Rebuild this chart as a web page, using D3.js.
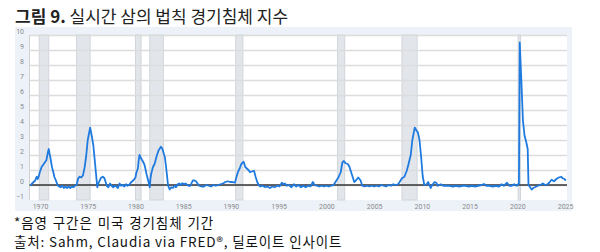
<!DOCTYPE html>
<html><head><meta charset="utf-8">
<script src="https://cdn.jsdelivr.net/npm/d3@7"></script>
<style>
html,body{margin:0;padding:0;background:#fff;}
svg{display:block;}
</style></head>
<body>
<svg id="c" width="600" height="252"></svg>
<script>
// ---- data ----
const months = ["1969-01","1969-03","1969-05","1969-07","1969-08","1969-09","1969-10","1969-11","1970-01","1970-03","1970-05","1970-07","1970-09","1970-11","1970-12","1971-01","1971-02","1971-04","1971-05","1971-06","1971-07","1971-09","1971-11","1972-01","1972-03","1972-05","1972-07","1972-09","1972-11","1973-01","1973-03","1973-05","1973-07","1973-09","1973-11","1974-01","1974-03","1974-05","1974-07","1974-09","1974-11","1975-01","1975-04","1975-06","1975-08","1975-10","1976-01","1976-02","1976-04","1976-06","1976-08","1976-10","1977-01","1977-03","1977-05","1977-07","1977-09","1977-11","1978-01","1978-03","1978-05","1978-07","1978-09","1978-11","1979-01","1979-03","1979-05","1979-07","1979-09","1979-11","1980-01","1980-02","1980-04","1980-05","1980-06","1980-08","1980-10","1980-12","1981-01","1981-03","1981-05","1981-07","1981-08","1981-09","1981-11","1982-01","1982-04","1982-06","1982-09","1982-11","1983-01","1983-02","1983-04","1983-06","1983-08","1983-10","1983-12","1984-02","1984-04","1984-06","1984-08","1984-10","1984-12","1985-02","1985-04","1985-06","1985-08","1985-10","1986-01","1986-03","1986-05","1986-07","1986-09","1986-12","1987-03","1987-06","1987-09","1987-12","1988-03","1988-06","1988-09","1988-12","1989-03","1989-06","1989-09","1989-12","1990-03","1990-06","1990-08","1990-10","1990-12","1991-02","1991-05","1991-07","1991-09","1991-11","1992-01","1992-03","1992-06","1992-08","1992-10","1992-12","1993-02","1993-05","1993-08","1993-11","1994-02","1994-05","1994-08","1994-11","1995-02","1995-05","1995-07","1995-09","1995-11","1996-02","1996-05","1996-08","1996-11","1997-02","1997-05","1997-08","1997-11","1998-02","1998-05","1998-08","1998-10","1999-01","1999-04","1999-07","1999-10","2000-01","2000-04","2000-07","2000-10","2001-01","2001-04","2001-07","2001-09","2001-11","2002-01","2002-04","2002-06","2002-09","2002-12","2003-02","2003-05","2003-08","2003-10","2004-01","2004-04","2004-07","2004-10","2005-01","2005-04","2005-07","2005-10","2006-01","2006-04","2006-07","2006-10","2007-01","2007-04","2007-07","2007-09","2007-12","2008-03","2008-06","2008-08","2008-11","2009-01","2009-04","2009-06","2009-08","2009-10","2009-12","2010-02","2010-04","2010-07","2010-09","2010-12","2011-02","2011-05","2011-07","2011-09","2012-01","2012-04","2012-08","2012-12","2013-04","2013-08","2013-12","2014-04","2014-08","2014-12","2015-04","2015-08","2015-12","2016-04","2016-07","2016-10","2017-02","2017-06","2017-10","2018-02","2018-05","2018-08","2018-12","2019-03","2019-06","2019-09","2019-12","2020-03","2020-04","2020-06","2020-08","2020-10","2020-12","2021-02","2021-03","2021-05","2021-07","2021-09","2021-11","2022-03","2022-06","2022-09","2022-12","2023-03","2023-05","2023-08","2023-11","2024-02","2024-05","2024-08","2024-10","2024-12","2025-02"];
const sahm = [-0.05,0.1,0.2,0.3,0.45,0.55,0.4,0.5,0.9,1.2,1.35,1.5,1.65,2.2,2.4,2.1,1.85,1.2,1.0,0.8,0.55,0.3,0.0,-0.1,-0.15,-0.05,-0.2,-0.1,-0.2,-0.1,-0.2,-0.1,-0.15,-0.05,0.0,0.45,0.55,0.5,0.65,1.15,1.9,3.0,3.83,3.3,2.65,1.55,-0.15,0.05,0.3,0.5,0.55,0.45,-0.05,-0.15,0.1,-0.05,-0.15,-0.05,-0.1,-0.2,0.1,-0.05,0.0,-0.1,0.05,-0.05,0.0,0.15,0.25,0.35,0.5,0.8,1.1,1.6,2.0,1.78,1.6,1.4,1.2,0.7,0.3,-0.15,0.5,0.8,1.2,1.4,2.0,2.3,2.55,2.4,2.0,1.85,0.95,-0.05,-0.3,-0.15,-0.2,-0.05,-0.15,0.05,0.1,0.0,0.12,0.05,0.1,0.0,-0.05,-0.05,0.3,0.3,0.25,0.1,-0.05,-0.1,-0.1,0.0,-0.05,-0.1,0.0,-0.05,0.0,0.05,0.1,0.2,0.25,0.2,0.2,0.15,0.55,0.9,1.1,1.4,1.55,1.2,1.1,1.0,0.85,0.9,0.95,0.55,0.2,0.0,-0.1,-0.05,-0.15,-0.1,-0.2,-0.1,-0.15,-0.05,-0.1,0.15,0.05,0.1,-0.05,0.0,-0.15,0.05,-0.1,0.0,-0.15,-0.05,-0.15,-0.05,-0.1,0.2,0.0,-0.05,-0.1,-0.05,-0.1,-0.05,-0.1,-0.05,0.0,0.25,0.5,0.85,1.5,1.6,1.45,1.4,1.2,0.7,0.2,0.3,0.5,0.3,-0.05,-0.1,-0.05,-0.1,-0.05,-0.1,-0.05,-0.1,0.0,-0.05,-0.1,0.0,-0.05,0.05,0.0,0.05,0.2,0.45,0.55,0.95,1.35,2.0,3.0,3.83,3.65,3.5,3.0,1.9,0.6,0.0,0.05,0.2,-0.2,0.0,0.2,0.15,-0.05,0.05,-0.05,-0.05,-0.05,-0.1,-0.05,-0.1,-0.05,-0.05,-0.1,-0.05,-0.1,-0.05,0.0,0.07,-0.05,-0.05,-0.1,-0.05,-0.1,0.05,-0.05,0.15,-0.05,-0.05,0.05,-0.05,0.1,9.5,7.0,4.3,3.3,2.9,2.4,0.0,-0.15,-0.3,-0.2,-0.15,-0.05,0.0,0.1,0.0,0.05,0.15,0.35,0.25,0.4,0.5,0.55,0.45,0.4,0.3];
const recStart = ["1969-12","1973-11","1980-01","1981-07","1990-07","2001-03","2007-12","2020-02"];
const recEnd   = ["1970-11","1975-03","1980-07","1982-11","1991-03","2001-11","2009-06","2020-04"];
const yTicks = [-1,0,1,2,3,4,5,6,7,8,9,10];
const xTicks = [1970,1975,1980,1985,1990,1995,2000,2005,2010,2015,2020,2025];
const title1 = "그림 9.";
const title2 = "실시간 삼의 법칙 경기침체 지수";
const note1 = "*음영 구간은 미국 경기침체 기간";
const note2 = "출처: Sahm, Claudia via FRED®, 딜로이트 인사이트";

// ---- drawing ----
const toYear = s => { const [y,m] = s.split("-").map(Number); return y + (m-1)/12; };
const svg = d3.select("#c");
const L = 29.5, R = 567, T = 35, B = 200;
const x = d3.scaleLinear().domain([1968.9, 2025.2]).range([L, R]);
const y = d3.scaleLinear().domain([-1, 10]).range([B, T]);
const font = "'Noto Sans CJK KR','Noto Sans',sans-serif";
const tickFont = "Roboto,'Open Sans',sans-serif";

svg.append("rect").attr("x",15).attr("y",27).attr("width",557).attr("height",184).attr("fill","#edf2f9");
svg.append("rect").attr("x",L).attr("y",T).attr("width",R-L).attr("height",B-T).attr("fill","#fff");

// recession bands
svg.append("g").selectAll("rect").data(recStart.map((s,i)=>[toYear(s), toYear(recEnd[i])+1/12]))
  .join("rect")
  .attr("x", d=>x(d[0])).attr("y", T).attr("width", d=>Math.max(1.5, x(d[1])-x(d[0])))
  .attr("height", B-T).attr("fill","#e2e6eb").attr("stroke","#d0d5db").attr("stroke-width",1);

// grid + y labels
const gy = svg.append("g").attr("transform",`translate(${L},0)`)
  .call(d3.axisLeft(y).tickValues(yTicks).tickSize(-(R-L)).tickFormat(d3.format("d")));
gy.select(".domain").remove();
gy.selectAll(".tick line").attr("stroke", d => d===-1 ? "none" : "#dcdcdc").attr("stroke-width",1.5);
gy.selectAll(".tick text").attr("x",-5.5).attr("dy","-0.2em").attr("fill","#8a8a8a")
  .style("font-family",tickFont).style("font-size","7px");

// left plot edge
svg.append("line").attr("x1",L).attr("x2",L).attr("y1",T).attr("y2",B).attr("stroke","#d0d0d0").attr("stroke-width",1);

// x axis labels
const gx = svg.append("g").attr("transform",`translate(0,${B})`)
  .call(d3.axisBottom(x).tickValues(xTicks).tickSize(0).tickPadding(4.5).tickFormat(d3.format("d")));
gx.select(".domain").remove();
gx.selectAll(".tick text").attr("fill","#8a8a8a").style("font-family",tickFont).style("font-size","7px");

// zero line
svg.append("line").attr("x1",L).attr("x2",R).attr("y1",y(0)).attr("y2",y(0)).attr("stroke","#333").attr("stroke-width",1.3);

// series line
const pts = months.map((m,i)=>[toYear(m), sahm[i]]);
svg.append("path").datum(pts)
  .attr("d", d3.line().x(d=>x(d[0])).y(d=>y(d[1])))
  .attr("fill","none").attr("stroke","#1f7ae0").attr("stroke-width",1.8).attr("stroke-linejoin","round");

// title
const t = svg.append("text").attr("x",15).attr("y",22.5).attr("fill","#222").style("font-family",font).style("font-size","17px");
t.append("tspan").attr("font-weight","bold").text(title1);
t.append("tspan").text(" " + title2);

// notes
svg.append("text").attr("x",14).attr("y",227.6).attr("fill","#111").style("font-family",font).style("font-size","13.5px")
  .style("letter-spacing","0.9px").style("word-spacing","1px").text(note1);
svg.append("text").attr("x",14).attr("y",247.4).attr("fill","#111").style("font-family",font).style("font-size","13.5px")
  .style("letter-spacing","0.85px").text(note2);
</script>
</body></html>
